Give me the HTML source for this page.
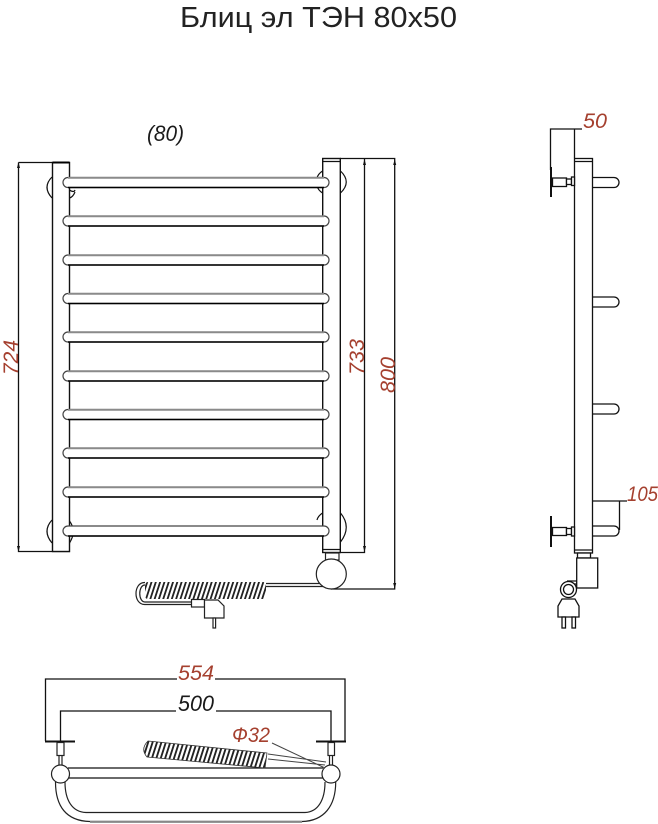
<!DOCTYPE html>
<html lang="ru">
<head>
<meta charset="utf-8">
<title>Блиц эл ТЭН 80х50</title>
<style>
html,body{margin:0;padding:0;background:#fff}
svg{display:block}
text{font-family:"Liberation Sans",sans-serif}
.d{font-style:italic;font-size:21px;fill:#a5402f}
.k{font-style:italic;font-size:22px;fill:#1a1a1a}
</style>
</head>
<body>
<svg xmlns="http://www.w3.org/2000/svg" width="658" height="824" viewBox="0 0 658 824">
<defs>
<pattern id="h" width="4.3" height="20" patternUnits="userSpaceOnUse" patternTransform="skewX(-18)">
<rect width="4.3" height="20" fill="#fff"/><rect width="1.900" height="20" fill="#222"/>
</pattern>
<pattern id="h2" width="4.3" height="20" patternUnits="userSpaceOnUse" patternTransform="rotate(5.7) skewX(-12)">
<rect width="4.3" height="20" fill="#fff"/><rect width="1.900" height="20" fill="#222"/>
</pattern>
</defs>

<text x="180" y="27" font-size="29" fill="#222" textLength="277" lengthAdjust="spacingAndGlyphs">Блиц эл ТЭН 80х50</text>
<text x="147" y="141" class="k" textLength="37" lengthAdjust="spacingAndGlyphs">(80)</text>

<g fill="none" stroke="#111" stroke-width="1.2">
<path d="M52 177Q42 187 52 198M69.500 190Q74 193 75 190M69.500 198Q73 197 75 192"/>
<path d="M52 520Q42 531 52 543M69.500 521Q77 531 69.500 543"/>
<path d="M340.500 171Q352 182 340.500 193M322.500 171Q318 174 317 178M322.500 193Q318 190 317 186"/>
<path d="M340.500 513Q352 527 340.500 542M322.500 513Q318 516 317 520"/>
</g>

<g fill="none" stroke="#111" stroke-width="1.300">
<path d="M18.500 162.500V551.500H70"/>
<path d="M18.500 162.500H52"/>
<path d="M340 158.500H394.700V589H331"/>
<path d="M364.500 158.500V552.500H340"/>
</g>
<g fill="#111">
<path d="M18.500 162l-1.500 6h3zM18.500 552l-1.500-6h3zM364.500 159l-1.500 6h3zM364.500 552l-1.500-6h3zM394.700 159l-1.500 6h3zM394.700 589l-1.500-6h3z"/>
</g>

<g fill="#fff" stroke="#111" stroke-width="1.400">
<rect x="52.500" y="162.500" width="17" height="389"/>
<rect x="322.700" y="158.500" width="17.600" height="394"/>
</g>
<path d="M52.500 162.500H69.500" stroke="#000" stroke-width="2"/>
<path d="M322.700 161.500H340.300M322.700 549.500H340.300" stroke="#111" stroke-width="1.200"/>

<g fill="#fff" stroke="#444" stroke-width="1.200">
<path d="M68 177.500H324A5 5 0 0 1 324 187.500H68A5 5 0 0 1 68 177.500Z"/>
<path d="M68 216H324A5 5 0 0 1 324 226H68A5 5 0 0 1 68 216Z"/>
<path d="M68 255H324A5 5 0 0 1 324 265H68A5 5 0 0 1 68 255Z"/>
<path d="M68 293.500H324A5 5 0 0 1 324 303.500H68A5 5 0 0 1 68 293.500Z"/>
<path d="M68 332H324A5 5 0 0 1 324 342H68A5 5 0 0 1 68 332Z"/>
<path d="M68 371H324A5 5 0 0 1 324 381H68A5 5 0 0 1 68 371Z"/>
<path d="M68 409.500H324A5 5 0 0 1 324 419.500H68A5 5 0 0 1 68 409.500Z"/>
<path d="M68 448H324A5 5 0 0 1 324 458H68A5 5 0 0 1 68 448Z"/>
<path d="M68 487H324A5 5 0 0 1 324 497H68A5 5 0 0 1 68 487Z"/>
<path d="M68 526H324A5 5 0 0 1 324 536H68A5 5 0 0 1 68 526Z"/>
</g>
<g stroke="#8a8a8a" stroke-width="1.800">
<path d="M68 177.800H324M68 216.300H324M68 255.300H324M68 293.800H324M68 332.300H324M68 371.300H324M68 409.800H324M68 448.300H324M68 487.300H324"/>
</g>
<g stroke="#000" stroke-width="1.400">
<path d="M68 187.500H324M68 226H324M68 265H324M68 303.500H324M68 342H324M68 381H324M68 419.500H324M68 458H324M68 497H324M68 536H324"/>
</g>

<g fill="#fff" stroke="#222" stroke-width="1.200">
<path d="M266 583.500H322M266 586.500H326" fill="none"/>
<path d="M145 582.500C133 582 133 605 145 604.500H192M145 585C138 585 138 602 145 602H192" fill="none"/>
<rect x="325.500" y="553" width="13.500" height="7"/>
<circle cx="331.300" cy="574" r="15"/>
<rect x="145" y="582" width="121" height="17" rx="3" fill="url(#h)" stroke="none"/>
<rect x="191.500" y="599.500" width="13" height="7.500"/>
<path d="M204.500 600H218L224 606V618H204.500Z"/>
<rect x="213" y="618" width="2.600" height="10"/>
</g>

<text transform="translate(18 375) rotate(-90)" class="d" textLength="35" lengthAdjust="spacingAndGlyphs">724</text>
<text transform="translate(364 375) rotate(-90)" class="d" textLength="36" lengthAdjust="spacingAndGlyphs">733</text>
<text transform="translate(395 393) rotate(-90)" class="d" textLength="36" lengthAdjust="spacingAndGlyphs">800</text>

<g fill="none" stroke="#111" stroke-width="1.300">
<path d="M550.500 170V129H582M574.500 129V158"/>
<path d="M574.500 501H627M619.500 501V530"/>
</g>
<text x="583" y="128" class="d" textLength="24" lengthAdjust="spacingAndGlyphs">50</text>
<text x="627" y="501" class="d" textLength="31" lengthAdjust="spacingAndGlyphs">105</text>
<g fill="#fff" stroke="#111" stroke-width="1.300">
<path d="M592.500 177.500H614A5 5 0 0 1 614 187.500H592.500"/>
<path d="M592.500 297H614A5 5 0 0 1 614 307H592.500"/>
<path d="M592.500 404H614A5 5 0 0 1 614 414H592.500"/>
<path d="M592.500 526H614A5 5 0 0 1 614 536H592.500"/>
<rect x="574.500" y="158.500" width="18" height="394.500"/>
<path d="M574.500 161.500H592.500M574.500 550H592.500" fill="none"/>
<rect x="552.500" y="178" width="14" height="8.500"/>
<rect x="566.500" y="179" width="5" height="5.500"/>
<rect x="571.500" y="177" width="3" height="8.500"/>
<rect x="552.500" y="527.500" width="14" height="8"/>
<rect x="566.500" y="528.500" width="5" height="6"/>
<rect x="571.500" y="527" width="3" height="9"/>
<rect x="577.500" y="553" width="13" height="5"/>
<rect x="576.700" y="558" width="21" height="30"/>
<path d="M567 581H576.700M567 584H576.700" fill="none"/>
<circle cx="568.500" cy="589.500" r="8"/>
<circle cx="568.500" cy="589.500" r="5"/>
<path d="M562 599H575L579 606V617H558V606Z"/>
<rect x="562" y="617" width="3.500" height="11"/>
<rect x="572" y="617" width="3.500" height="11"/>
</g>
<path d="M551 167V197M551 516V547" stroke="#111" stroke-width="2"/>

<g fill="none" stroke="#111" stroke-width="1.300">
<path d="M45.500 741V679H177M215 679H345V741"/>
<path d="M60.500 741V711H176M216 711H331V741"/>
</g>
<path d="M45 741.500H75M316 741.500H346" stroke="#111" stroke-width="2"/>
<text x="178" y="680" class="d" textLength="36" lengthAdjust="spacingAndGlyphs">554</text>
<text x="178" y="711" class="k" textLength="36" lengthAdjust="spacingAndGlyphs">500</text>
<text x="232" y="742" class="d" textLength="38" lengthAdjust="spacingAndGlyphs">Ф32</text>
<g fill="#fff" stroke="#222" stroke-width="1.200">
<rect x="57" y="742.500" width="7" height="13"/>
<rect x="328" y="742.500" width="6.500" height="13"/>
<path d="M59 756V765M62 756V765M329.500 756V765M332.500 756V765" fill="none"/>
<path d="M55.500 782C55.500 806 66 821 90 821.500H302C324 821 335.700 806 335.700 782" fill="none"/>
<path d="M65 782C65 800 72 812 86 812.500H305C318 812 325 800 325 782" fill="none"/>
<path d="M68 768H323M68 778H323" fill="none" stroke="#111" stroke-width="1.300"/>
<circle cx="60.500" cy="774" r="9"/>
<circle cx="331" cy="774" r="9"/>
<path d="M268 754L326 762M268 759L325 765M272 743L325 768" fill="none" stroke="#444" stroke-width="1"/>
<path d="M148 741L267 753L265 768L147 757Q140 749 148 741Z" fill="url(#h2)" stroke="#333" stroke-width="0.800"/>
</g>
<path d="M90 821.800H302" stroke="#888" stroke-width="2.200"/>
</svg>
</body>
</html>
